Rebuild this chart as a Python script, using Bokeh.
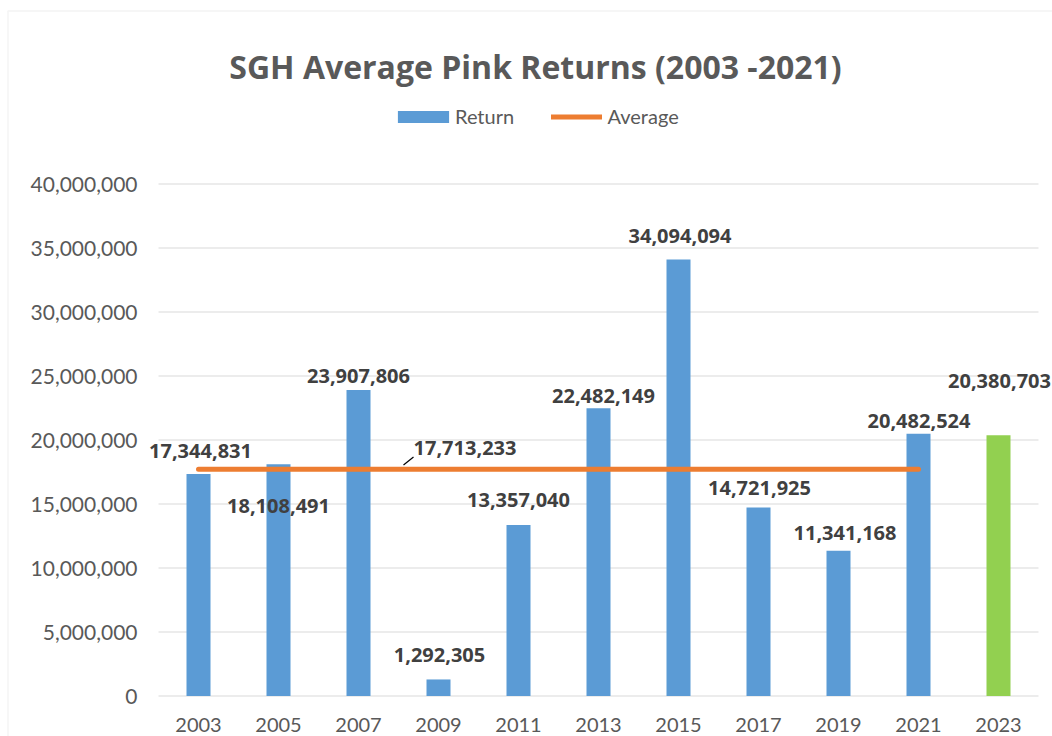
from bokeh.plotting import figure
from bokeh.models import (ColumnDataSource, Range1d, LabelSet, Label, Legend,
                          LegendItem, BoxAnnotation)
from bokeh.core.properties import value
from bokeh.embed import file_html
from bokeh.resources import INLINE

# ---------------- data ----------------
years = ["2003", "2005", "2007", "2009", "2011", "2013", "2015", "2017", "2019", "2021", "2023"]
returns = [17344831, 18108491, 23907806, 1292305, 13357040, 22482149,
           34094094, 14721925, 11341168, 20482524, 20380703]
avg_years = ["2003", "2005", "2007", "2009", "2011", "2013", "2015", "2017", "2019", "2021"]
average = [17713233, 17713233, 17713233, 17713233, 17713233,
           17713233, 17713233, 17713233, 17713233, 17713233]
y_ticks = [0, 5000000, 10000000, 15000000, 20000000, 25000000, 30000000, 35000000, 40000000]
title_text = "SGH Average Pink Returns (2003 -2021)"

# ---------------- styles ----------------
BLUE = "#5B9BD5"
GREEN = "#92D050"
ORANGE = "#ED7D31"
GRID = "#D9D9D9"
AXIS_TXT = "#595959"
LBL_TXT = "#404040"
FONT = "Lato"
BOLD_FONT = "Open Sans"

bar_colors = [BLUE] * 10 + [GREEN]
# data-label placement offsets in screen pixels (style, not data)
label_dx = [2, 0, 0, 1, 0, 5, 1.5, 1, 6.5, 0.5, 1]
label_dy = [23, -42, 14, 24.5, 25, 12.5, 23.5, 19.5, 18, 12.5, 54.5]

W, H = 1052, 736
PX_PER_YEAR = 40.0          # one category (2 years) = 80 px
PX_PER_UNIT = 512.0 / 40000000
X0_PIX = 198.0              # pixel of first category centre
Y0_PIX = 695.5              # pixel of value 0 (from top)

x_num = [int(y) for y in years]
avg_x = [int(y) for y in avg_years]
x_start = x_num[0] - X0_PIX / PX_PER_YEAR
y_start = -(H - Y0_PIX) / PX_PER_UNIT

p = figure(width=W, height=H, output_backend="svg", toolbar_location=None,
           x_range=Range1d(x_start, x_start + W / PX_PER_YEAR),
           y_range=Range1d(y_start, y_start + H / PX_PER_UNIT),
           x_axis_location=None, y_axis_location=None,
           min_border=0, min_border_left=0, min_border_right=0,
           min_border_top=0, min_border_bottom=0)
p.outline_line_color = None
p.background_fill_color = "white"
p.border_fill_color = "white"
p.xgrid.visible = False
p.ygrid.visible = False

# horizontal gridlines across the category band
band_l = x_num[0] - 1
band_r = x_num[-1] + 1
p.segment(x0=[band_l] * len(y_ticks), x1=[band_r] * len(y_ticks),
          y0=y_ticks, y1=y_ticks, line_color=GRID, line_width=1)

bar_src = ColumnDataSource(dict(x=x_num, top=returns, color=bar_colors,
                                dx=label_dx, dy=label_dy,
                                txt=[f"{v:,}" for v in returns]))
bars = p.vbar(x="x", top="top", bottom=0, width=0.6, source=bar_src,
              fill_color="color", line_color=None)

avg_line = p.line(x=avg_x, y=average, line_color=ORANGE, line_width=5,
                  line_cap="round")

# y tick labels
ytick_src = ColumnDataSource(dict(x=[band_l] * len(y_ticks), y=y_ticks,
                                  txt=[f"{t:,}" for t in y_ticks]))
p.add_layout(LabelSet(x="x", y="y", text="txt", source=ytick_src, x_offset=-21,
                      text_align="right", text_baseline="middle",
                      text_font=value(FONT), text_font_size="21px",
                      text_color=AXIS_TXT))

# category (year) labels
year_src = ColumnDataSource(dict(x=x_num, y=[0] * len(years), txt=years))
p.add_layout(LabelSet(x="x", y="y", text="txt", source=year_src, y_offset=-28.5,
                      text_align="center", text_baseline="middle",
                      text_font=value(FONT), text_font_size="20px",
                      text_color=AXIS_TXT))

# data labels
p.add_layout(LabelSet(x="x", y="top", text="txt", source=bar_src,
                      x_offset="dx", y_offset="dy",
                      text_align="center", text_baseline="middle",
                      text_font=value(BOLD_FONT), text_font_size="20px",
                      text_font_style="bold", text_color=LBL_TXT))

# average label with leader line
avg_src = ColumnDataSource(dict(x=[avg_x[3]], y=[average[3]], txt=[f"{average[3]:,}"]))
p.add_layout(LabelSet(x="x", y="y", text="txt", source=avg_src,
                      x_offset=26.5, y_offset=21.3,
                      text_align="center", text_baseline="middle",
                      text_font=value(BOLD_FONT), text_font_size="20px",
                      text_font_style="bold", text_color=LBL_TXT))
p.segment(x0=[avg_x[3] - 35 / PX_PER_YEAR], y0=[average[3] + 4.3 / PX_PER_UNIT],
          x1=[avg_x[3] - 25 / PX_PER_YEAR], y1=[average[3] + 12.3 / PX_PER_UNIT],
          line_color="black", line_width=1.2)

# title
p.add_layout(Label(x=535, y=H - 66, x_units="screen", y_units="screen",
                   text=title_text, text_align="center", text_baseline="alphabetic",
                   text_font=BOLD_FONT, text_font_size="32px", text_font_style="bold",
                   text_color=AXIS_TXT))

# legends
leg1 = Legend(items=[LegendItem(label="Return", renderers=[bars], index=0)],
              location=(391, 608), orientation="horizontal",
              glyph_width=64, glyph_height=15, label_standoff=0,
              padding=0, margin=0, border_line_color=None, background_fill_alpha=0,
              label_text_font=FONT, label_text_font_size="20px",
              label_text_color=AXIS_TXT)
leg2 = Legend(items=[LegendItem(label="Average", renderers=[avg_line])],
              location=(550.5, 608), orientation="horizontal",
              glyph_width=51, glyph_height=15, label_standoff=6,
              padding=0, margin=0, border_line_color=None, background_fill_alpha=0,
              label_text_font=FONT, label_text_font_size="20px",
              label_text_color=AXIS_TXT)
p.add_layout(leg1)
p.add_layout(leg2)

# chart border (left and top edges visible)
p.add_layout(BoxAnnotation(left=7.5, right=W + 100, bottom=-100, top=H - 10.5,
                           left_units="screen", right_units="screen",
                           top_units="screen", bottom_units="screen",
                           fill_alpha=0, line_color=GRID, line_width=1.5))

open("out.html", "w").write(file_html(p, INLINE))
